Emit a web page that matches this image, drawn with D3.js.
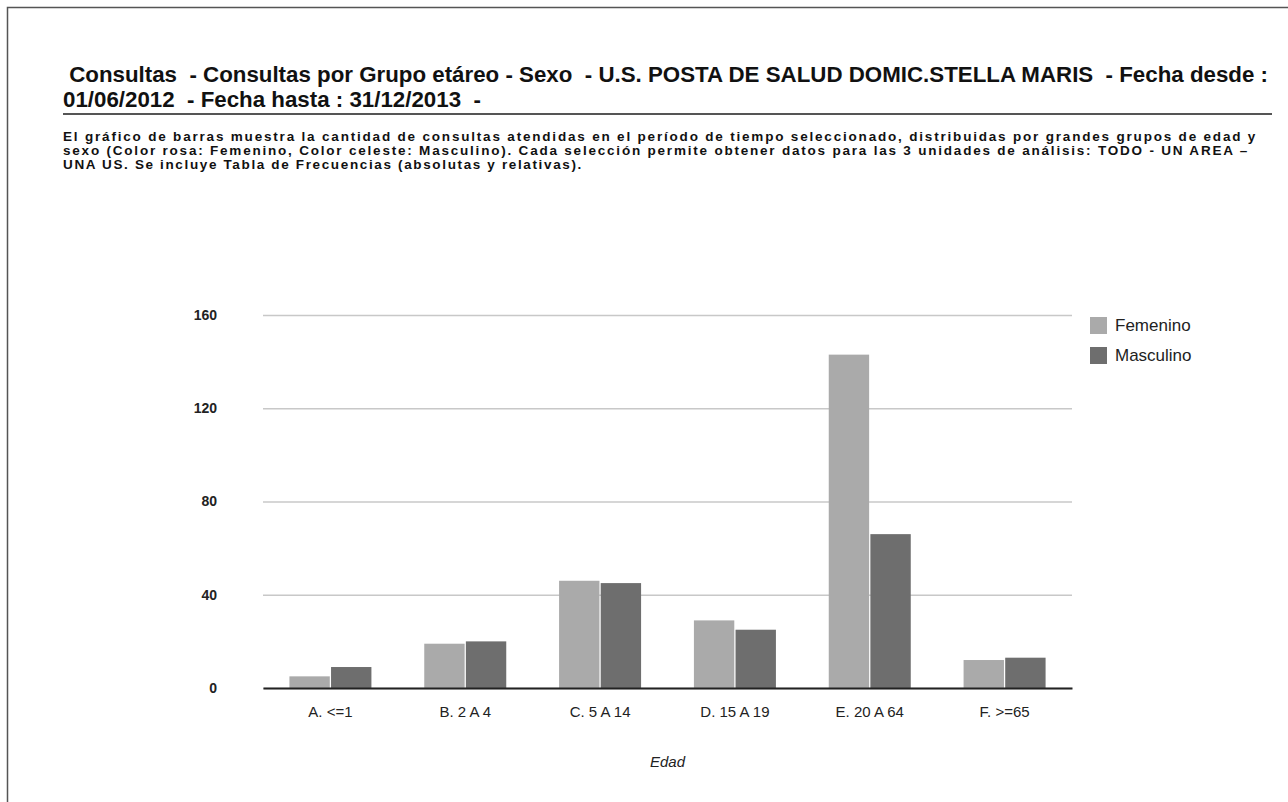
<!DOCTYPE html>
<meta charset="utf-8">
<style>
  body { margin: 0; background: #fff; }
  svg { display: block; font-family: "Liberation Sans", Arial, sans-serif; }
  .grid line { stroke: #c8c8c8; stroke-width: 1.3; }
  .grid text { font-size: 14px; font-weight: bold; fill: #222; }
  .xaxis text { font-size: 15px; fill: #222; }
</style>
<body>
<script src="https://d3js.org/d3.v7.min.js"></script>
<script>
// data
var categories = ["A. <=1", "B. 2 A 4", "C. 5 A 14", "D. 15 A 19", "E. 20 A 64", "F. >=65"];
var series = ["Femenino", "Masculino"];
var femenino = [5, 19, 46, 29, 143, 12];
var masculino = [9, 20, 45, 25, 66, 13];
var yTicks = [0, 40, 80, 120, 160];
var colors = ["#aaaaaa", "#6e6e6e"];

var titleLines = [
  " Consultas  - Consultas por Grupo etáreo - Sexo  - U.S. POSTA DE SALUD DOMIC.STELLA MARIS  - Fecha desde :",
  "01/06/2012  - Fecha hasta : 31/12/2013  -"
];
var descLines = [
  "El gráfico de barras muestra la cantidad de consultas atendidas en el período de tiempo seleccionado, distribuidas por grandes grupos de edad y",
  "sexo (Color rosa: Femenino, Color celeste: Masculino). Cada selección permite obtener datos para las 3 unidades de análisis: TODO - UN AREA –",
  "UNA US. Se incluye Tabla de Frecuencias (absolutas y relativas)."
];

var width = 1288, height = 802;
var svg = d3.select("body").append("svg")
    .attr("width", width)
    .attr("height", height);

// page frame
svg.append("path")
    .attr("d", "M7.5," + height + "V7.5H" + width)
    .attr("fill", "none")
    .attr("stroke", "#555")
    .attr("stroke-width", 1.5);

// title, squeezed to the width of the rule
var t1 = svg.append("text")
    .attr("x", 63).attr("y", 82)
    .style("font-size", "21.5px").style("font-weight", "bold").style("white-space", "pre")
    .attr("fill", "#111")
    .text(titleLines[0]);
var w1 = t1.node().getComputedTextLength();
var ratio = 1205 / w1;
t1.attr("textLength", 1205).attr("lengthAdjust", "spacingAndGlyphs");
var t2 = svg.append("text")
    .attr("x", 63).attr("y", 107)
    .style("font-size", "21.5px").style("font-weight", "bold").style("white-space", "pre")
    .attr("fill", "#111")
    .text(titleLines[1]);
t2.attr("textLength", t2.node().getComputedTextLength() * ratio).attr("lengthAdjust", "spacingAndGlyphs");

svg.append("line")
    .attr("x1", 63).attr("x2", 1272)
    .attr("y1", 114).attr("y2", 114)
    .attr("stroke", "#555").attr("stroke-width", 2);

// description: last line sets the letter spacing, the first two are justified
var descWidths = [1194, 1186, 520];
var desc = svg.selectAll(".desc")
    .data(descLines)
  .enter().append("text")
    .attr("class", "desc")
    .attr("x", 63).attr("y", function(d, i) { return 141 + i * 14; })
    .style("font-size", "13.5px").style("font-weight", "bold")
    .attr("fill", "#111")
    .text(function(d) { return d; });
var last = desc.filter(function(d, i) { return i === 2; }).node();
var spacing = (descWidths[2] - last.getComputedTextLength()) / descLines[2].length;
desc.style("letter-spacing", spacing + "px")
    .filter(function(d, i) { return i < 2; })
    .attr("textLength", function(d, i) { return descWidths[i]; })
    .attr("lengthAdjust", "spacing");

// chart
var margin = { left: 263, right: 1072, top: 315, bottom: 688 };

var x0 = d3.scaleBand()
    .domain(categories)
    .range([margin.left, margin.right]);

var x1 = d3.scaleBand()
    .domain(series)
    .range([0, 82])
    .paddingInner(0.03);

var y = d3.scaleLinear()
    .domain([0, 160])
    .range([margin.bottom, margin.top]);

var grid = svg.append("g")
    .attr("class", "grid")
    .attr("transform", "translate(" + margin.left + ",0)")
    .call(d3.axisLeft(y).tickValues(yTicks).tickSize(-(margin.right - margin.left)).tickPadding(46));
grid.select(".domain").remove();
grid.selectAll("text").attr("font-family", null).attr("font-size", null);

var rows = categories.map(function(c, i) {
  return { cat: c, values: [femenino[i], masculino[i]] };
});

var groups = svg.selectAll(".group")
    .data(rows)
  .enter().append("g")
    .attr("class", "group")
    .attr("transform", function(d) { return "translate(" + (x0(d.cat) + x0.bandwidth() / 2 - 41) + ",0)"; });

groups.selectAll("rect")
    .data(function(d) { return d.values.map(function(v, j) { return { s: series[j], v: v, j: j }; }); })
  .enter().append("rect")
    .attr("x", function(d) { return x1(d.s); })
    .attr("y", function(d) { return y(d.v); })
    .attr("width", x1.bandwidth())
    .attr("height", function(d) { return y(0) - y(d.v); })
    .attr("fill", function(d) { return colors[d.j]; });

// baseline + category labels
var xaxis = svg.append("g")
    .attr("class", "xaxis")
    .attr("transform", "translate(0," + margin.bottom + ")")
    .call(d3.axisBottom(x0).tickSize(0).tickPadding(18));
xaxis.select(".domain").attr("stroke", "#222").attr("stroke-width", 2);
xaxis.selectAll("text").attr("font-family", null).attr("font-size", null);

svg.append("text")
    .attr("x", (margin.left + margin.right) / 2)
    .attr("y", 767)
    .attr("text-anchor", "middle")
    .style("font-size", "15px").style("font-style", "italic")
    .attr("fill", "#222")
    .text("Edad");

// legend
var legend = svg.selectAll(".legend")
    .data(series)
  .enter().append("g")
    .attr("class", "legend")
    .attr("transform", function(d, i) { return "translate(1090," + (317 + i * 30) + ")"; });
legend.append("rect")
    .attr("width", 17).attr("height", 17)
    .attr("fill", function(d, i) { return colors[i]; });
legend.append("text")
    .attr("x", 25).attr("y", 14)
    .style("font-size", "17px")
    .attr("fill", "#222")
    .text(function(d) { return d; });
</script>
</body>
